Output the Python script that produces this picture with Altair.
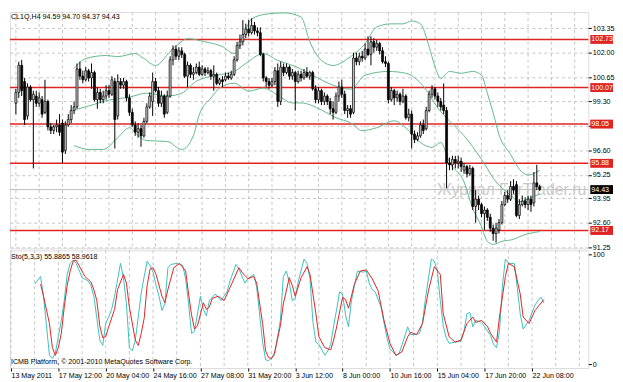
import altair as alt
import pandas as pd

# ---------------- data ----------------
opens = [99.2, 99.8, 101.3, 100.4, 98.5, 100.1, 99.4, 99.6, 99.2, 99.4,
         98.7, 99.3, 97.9, 97.7, 97.9, 98.0, 98.1, 96.6, 98.0, 98.3,
         98.8, 99.0, 101.1, 100.7, 100.5, 101.0, 100.6, 100.9, 99.4, 99.8,
         99.4, 99.6, 99.9, 99.7, 100.4, 98.5, 100.4, 100.2, 100.4, 99.5,
         98.7, 98.0, 97.6, 97.8, 97.4, 98.2, 99.0, 99.3, 100.4, 99.9,
         99.2, 99.6, 98.7, 99.6, 101.6, 102.2, 101.8, 102.1, 101.9, 100.7,
         101.3, 100.8, 100.9, 101.2, 100.8, 101.1, 100.9, 101.0, 100.7, 100.8,
         100.3, 100.5, 100.5, 100.7, 100.6, 100.8, 101.6, 102.4, 102.6, 103.0,
         103.3, 103.1, 103.5, 103.2, 103.1, 101.9, 100.6, 100.4, 100.2, 100.4,
         101.0, 99.3, 101.2, 100.9, 101.2, 100.7, 100.9, 100.4, 100.8, 100.6,
         100.9, 100.7, 100.9, 100.0, 99.4, 99.9, 99.3, 99.6, 99.3, 98.9,
         98.7, 99.6, 100.1, 99.7, 98.8, 98.9, 98.7, 101.7, 101.5, 101.8,
         101.7, 102.2, 101.9, 102.6, 102.3, 102.5, 102.1, 101.5, 101.4, 99.4,
         99.9, 99.5, 99.7, 99.3, 99.6, 98.4, 98.6, 97.5, 97.2, 97.4,
         98.0, 97.8, 98.8, 99.7, 100.0, 99.6, 99.3, 99.1, 98.8, 95.9,
         95.8, 96.1, 95.9, 96.0, 95.5, 95.7, 95.3, 95.6, 93.5, 93.9,
         93.6, 93.1, 93.3, 92.9, 92.3, 92.0, 92.2, 92.6, 93.6, 94.1,
         93.9, 94.6, 94.7, 93.0, 93.6, 93.8, 93.6, 93.9, 93.7, 94.8,
         94.59]
highs = [100.0, 101.5, 101.6, 100.6, 100.3, 100.2, 99.9, 99.9, 99.8, 99.6,
         100.5, 99.4, 98.1, 98.0, 98.3, 98.6, 98.3, 98.2, 98.6, 99.1,
         99.3, 101.4, 101.5, 101.0, 101.2, 101.1, 101.4, 101.0, 100.1, 100.0,
         99.9, 100.2, 100.2, 100.7, 100.6, 100.8, 100.6, 100.6, 100.5, 99.7,
         98.9, 98.2, 98.1, 98.0, 98.4, 99.2, 99.8, 100.9, 100.6, 100.1,
         99.9, 99.7, 99.9, 101.8, 102.4, 102.4, 102.3, 102.3, 102.0, 101.5,
         101.4, 101.2, 101.4, 101.5, 101.3, 101.2, 101.2, 101.1, 101.3, 100.9,
         100.6, 100.7, 100.9, 100.9, 101.0, 101.8, 102.6, 103.0, 103.8, 103.6,
         103.8, 103.9, 103.7, 103.4, 103.4, 102.0, 100.7, 100.6, 100.6, 101.2,
         101.4, 101.5, 101.4, 101.4, 101.3, 101.1, 101.0, 101.0, 101.0, 101.1,
         101.2, 101.0, 101.0, 100.2, 100.1, 100.0, 99.8, 99.7, 99.5, 99.3,
         99.8, 100.4, 100.5, 99.9, 99.1, 99.1, 102.0, 102.0, 102.0, 102.1,
         102.5, 102.9, 102.9, 102.8, 102.7, 102.6, 102.3, 101.8, 101.5, 100.1,
         100.0, 99.9, 99.8, 100.0, 99.7, 98.9, 98.8, 97.7, 97.6, 98.2,
         98.3, 99.0, 99.9, 100.2, 100.1, 99.8, 99.5, 100.3, 99.0, 96.2,
         96.3, 96.3, 96.3, 96.2, 95.9, 95.8, 95.8, 95.7, 94.4, 94.1,
         93.7, 93.5, 93.4, 93.1, 92.5, 92.6, 92.8, 93.8, 94.3, 94.4,
         94.9, 95.0, 94.9, 93.9, 94.1, 94.0, 94.1, 94.1, 95.4, 95.8,
         94.70]
lows = [98.6, 99.5, 99.6, 98.0, 98.3, 99.3, 95.6, 99.0, 99.0, 98.4,
        98.6, 97.7, 97.5, 97.5, 97.6, 97.4, 95.9, 96.4, 97.9, 98.1,
        98.6, 98.9, 100.5, 100.3, 100.4, 100.4, 100.0, 99.3, 98.9, 99.2,
        99.2, 99.4, 99.5, 99.6, 96.7, 98.3, 100.0, 100.0, 99.3, 98.5,
        97.9, 97.4, 97.3, 96.8, 97.3, 98.1, 98.9, 98.5, 99.8, 99.0,
        99.0, 98.4, 98.6, 99.5, 101.3, 101.6, 101.6, 101.7, 100.6, 100.1,
        100.6, 100.5, 100.8, 100.7, 100.7, 100.7, 100.8, 100.5, 99.9, 100.2,
        100.2, 100.1, 100.4, 100.5, 100.5, 100.7, 101.5, 102.2, 102.4, 102.8,
        102.9, 103.0, 103.0, 102.9, 101.8, 100.4, 100.1, 100.0, 100.1, 100.2,
        99.0, 99.1, 100.7, 100.8, 100.5, 100.5, 98.8, 100.3, 100.4, 100.5,
        100.6, 100.5, 99.9, 99.2, 99.2, 99.1, 99.1, 99.1, 98.6, 98.3,
        98.6, 99.3, 99.5, 98.6, 98.4, 98.4, 98.6, 101.3, 101.3, 101.5,
        101.6, 101.8, 101.3, 102.0, 102.1, 101.9, 101.4, 101.2, 99.2, 99.3,
        99.1, 99.3, 99.1, 99.2, 98.3, 98.2, 96.7, 97.0, 97.1, 97.3,
        97.5, 97.7, 98.7, 99.5, 99.4, 99.0, 98.8, 98.6, 94.5, 95.5,
        95.5, 95.6, 95.6, 95.4, 95.3, 95.1, 95.2, 93.3, 92.6, 93.3,
        92.9, 92.2, 92.7, 92.1, 91.6, 91.5, 92.0, 92.5, 93.5, 93.7,
        93.8, 94.2, 92.9, 92.8, 93.5, 93.4, 93.3, 93.2, 93.5, 94.4,
        94.37]
closes = [99.8, 101.3, 99.9, 98.3, 100.1, 99.4, 99.7, 99.2, 99.5, 98.6,
          99.3, 97.9, 97.7, 97.9, 98.0, 97.6, 96.5, 98.0, 98.3, 98.8,
          99.0, 101.1, 100.7, 100.5, 101.0, 100.6, 100.9, 99.4, 99.8, 99.4,
          99.6, 99.9, 99.7, 100.5, 98.3, 100.4, 100.2, 100.4, 99.5, 98.7,
          98.0, 97.6, 97.8, 97.4, 98.2, 99.0, 99.6, 100.4, 99.9, 99.2,
          99.6, 98.6, 99.6, 101.6, 102.2, 101.8, 102.1, 101.9, 100.7, 101.3,
          100.8, 100.9, 101.2, 100.8, 101.1, 100.9, 101.0, 100.7, 100.8, 100.3,
          100.5, 100.4, 100.7, 100.6, 100.8, 101.6, 102.4, 102.6, 103.0, 103.3,
          103.1, 103.5, 103.2, 103.1, 101.9, 100.6, 100.4, 100.2, 100.4, 101.0,
          99.3, 101.2, 100.9, 101.2, 100.7, 100.9, 100.4, 100.8, 100.6, 100.9,
          100.7, 100.9, 100.0, 99.4, 99.9, 99.3, 99.6, 99.3, 98.9, 98.7,
          99.6, 100.1, 99.7, 98.8, 98.9, 98.6, 101.7, 101.5, 101.8, 101.7,
          102.2, 101.9, 102.6, 102.3, 102.5, 102.1, 101.5, 101.4, 99.4, 99.9,
          99.5, 99.7, 99.3, 99.6, 98.4, 98.6, 97.5, 97.2, 97.4, 98.0,
          97.7, 98.8, 99.7, 100.0, 99.6, 99.3, 99.0, 98.8, 95.9, 95.8,
          96.1, 95.9, 96.0, 95.7, 95.7, 95.3, 95.6, 93.5, 93.9, 93.6,
          93.1, 93.3, 92.9, 92.3, 92.0, 92.3, 92.6, 93.6, 94.1, 93.9,
          94.6, 94.4, 93.0, 93.6, 93.8, 93.6, 93.9, 93.6, 94.8, 94.6,
          94.43]
bars = list(range(len(closes)))

# Bollinger bands (bar index, price)
upper_bars = [20, 24, 31, 35, 41, 44, 48, 53, 56, 59, 65, 71, 75, 78, 81, 86, 92, 98, 101, 105,
              109, 115, 120, 124, 129, 133, 136, 139, 142, 144, 146, 149, 153, 157, 160, 162, 164,
              166, 170, 173, 176, 180]
upper_vals = [101.13, 101.67, 101.84, 101.78, 101.95, 101.67, 101.29, 102.06, 102.49, 102.77,
              102.60, 102.33, 101.95, 102.88, 103.86, 104.13, 104.2, 103.97, 102.60, 101.57,
              101.29, 101.78, 102.49, 103.42, 103.59, 103.59, 103.75, 103.59, 102.33, 101.24,
              100.58, 100.96, 100.86, 100.96, 100.75, 99.76, 98.67, 97.47, 96.37, 95.56, 95.23, 95.5]
mid_bars = [20, 25, 32, 39, 45, 52, 57, 62, 69, 75, 79, 85, 90, 96, 102, 109, 115, 120, 128,
            134, 140, 145, 151, 154, 160, 165, 170, 173, 176, 180]
mid_vals = [98.83, 99.05, 99.38, 99.54, 99.76, 99.60, 99.76, 100.42, 100.75, 100.96, 101.40,
            101.95, 101.57, 101.24, 100.75, 100.20, 99.98, 100.75, 100.96, 100.86, 100.15, 98.94,
            97.90, 97.41, 96.10, 94.85, 94.13, 93.75, 93.92, 94.19]
lower_bars = [20, 25, 30, 35, 39, 42, 45, 52, 57, 61, 63, 67, 70, 75, 80, 85, 90, 95, 98, 105,
              110, 115, 119, 124, 130, 134, 139, 143, 146, 149, 154, 157, 160, 162, 164, 167,
              171, 174, 180]
lower_vals = [96.87, 96.65, 96.65, 97.30, 97.85, 97.41, 97.14, 97.09, 96.65, 97.41, 98.56,
              99.49, 100.04, 100.31, 99.87, 100.04, 99.65, 99.22, 99.22, 98.83, 98.40, 98.12,
              97.69, 97.85, 98.23, 97.85, 97.03, 96.76, 97.03, 95.94, 94.85, 93.37, 92.39, 91.57,
              91.40, 91.57, 91.68, 91.89, 92.11]

# Stochastic %K and %D (bar index, value)
k_bars = [8, 10, 11, 12, 13, 14, 15, 16, 17, 18, 19, 20, 21, 22, 23, 24, 26, 27, 28, 29, 30, 31,
          32, 33, 34, 35, 37, 38, 39, 40, 41, 42, 43, 44, 45, 46, 47, 48, 49, 50, 51, 52, 53, 54,
          56, 58, 59, 60, 61, 62, 64, 65, 66, 67, 69, 71, 72, 73, 74, 76, 77, 79, 80, 82, 83, 84,
          85, 86, 87, 89, 91, 92, 93, 94, 95, 96, 97, 99, 100, 101, 102, 103, 104, 106, 107, 108,
          109, 110, 111, 112, 113, 114, 115, 117, 119, 120, 121, 122, 123, 125, 127, 128, 130,
          131, 133, 134, 135, 137, 138, 139, 140, 142, 143, 144, 145, 146, 147, 148, 150, 152,
          153, 154, 155, 156, 157, 159, 160, 162, 163, 164, 165, 166, 167, 168, 170, 171, 172,
          173, 175, 177, 178, 179, 180]
k_vals = [73, 80, 62, 35, 8, 5, 10, 25, 40, 58, 82, 92, 95, 92, 86, 79, 76, 72, 62, 42, 22, 17,
          37, 43, 50, 62, 92, 79, 55, 15, 12, 22, 43, 65, 80, 94, 90, 84, 72, 62, 49, 55, 88, 91,
          92, 90, 78, 55, 28, 30, 62, 50, 44, 58, 64, 58, 62, 66, 76, 91, 87, 74, 78, 82, 70, 45,
          20, 4, 3, 8, 40, 80, 85, 75, 58, 60, 75, 96, 92, 78, 38, 20, 18, 8, 12, 18,
          35, 50, 66, 64, 45, 34, 58, 85, 84, 85, 74, 68, 66, 52, 24, 14, 8,
          9, 25, 34, 27, 27, 28, 38, 60, 96, 94, 85, 58, 35, 24, 19, 20, 21,
          30, 46, 47, 34, 40, 38, 34, 26, 18, 15, 30, 72, 96, 92, 92, 70, 46,
          32, 40, 54, 58, 61, 55.89]
d_bars = [10, 11, 13, 14, 15, 16, 17, 18, 19, 20, 21, 22, 23, 25, 27, 28, 29, 30, 31, 32, 33,
          35, 36, 38, 39, 40, 42, 43, 44, 45, 46, 47, 48, 49, 51, 52, 53, 55, 57, 59, 60, 61, 62,
          63, 65, 66, 67, 68, 70, 72, 74, 77, 78, 80, 82, 83, 85, 86, 87, 88, 89, 91, 92, 94, 95,
          96, 98, 100, 101, 103, 104, 106, 108, 109, 110, 112, 113, 114, 116, 118, 120, 122, 124,
          126, 128, 130, 132, 134, 135, 137, 139, 141, 143, 145, 146, 148, 150, 152, 154, 156,
          157, 159, 161, 162, 164, 165, 167, 168, 170, 172, 173, 175, 177, 180]
d_vals = [73, 62, 37, 15, 8, 15, 28, 52, 72, 85, 94, 95, 90, 80, 75, 68, 58, 35, 24, 25, 34,
          50, 68, 82, 74, 52, 22, 17, 28, 42, 72, 87, 88, 82, 62, 56, 68, 88, 92, 85, 64, 45, 32,
          35, 56, 50, 52, 60, 62, 58, 70, 88, 84, 78, 80, 74, 37, 12, 6, 5, 10, 35, 55, 79, 72,
          62, 79, 89, 82, 46, 25, 15, 13, 22, 34, 61, 59, 51, 73, 85, 86, 78, 67,
          40, 19, 8, 11, 25, 29, 27, 37, 67, 89, 82, 46, 25, 20, 22, 37, 43,
          38, 40, 34, 28, 20, 43, 80, 92, 89, 64, 43, 37, 49, 58.96]

level_prices = [102.73, 100.07, 98.05, 95.88, 92.17]
last_price = [94.43]
price_ticks = [103.35, 102.00, 100.65, 99.30, 97.95, 96.60, 95.25, 93.95, 92.60, 91.25]
hidden_tick = 97.95
stoch_ticks = [0, 100]
time_labels = ["13 May 2011", "17 May 12:00", "20 May 04:00", "24 May 16:00", "27 May 08:00",
               "31 May 20:00", "3 Jun 12:00", "8 Jun 00:00", "10 Jun 16:00", "15 Jun 04:00",
               "17 Jun 20:00", "22 Jun 08:00"]
label_step = 16
grid_step = 8
header_text = ["CL1Q,H4  94.59 94.70 94.37 94.43"]
sto_text = ["Sto(5,3,3) 55.8865 58.9618"]
footer_text = ["ICMB Platform, \u00a9 2001-2010 MetaQuotes Software Corp."]
watermark_text = ["\u0416\u0443\u0440\u043d\u0430\u043b ForTrader.ru"]

# ---------------- layout / style ----------------
W, H1, H2 = 585, 239, 119
FONT = "Liberation Sans"
FS = 7.2
BAND = "#62b98c"
KCOL = "#3dbfbf"
RED = "#e02424"
GRID = "#c4c4c4"

xs = alt.Scale(domain=[-0.33, 195], nice=False, zero=False)
ys = alt.Scale(domain=[91.18, 104.24], nice=False, zero=False)
ss = alt.Scale(domain=[-3.6, 103.9], nice=False, zero=False)

price_axis = alt.Axis(
    orient="right", values=price_ticks, format=".2f",
    labelExpr=f"datum.value == {hidden_tick} ? '' : format(datum.value, '.2f')",
    grid=True, gridDash=[3, 3], gridColor=GRID, tickSize=3, tickColor="black",
    labelFontSize=FS, labelFont=FONT, labelColor="black", domain=False, labelPadding=1)
stoch_axis = alt.Axis(
    orient="right", values=stoch_ticks, grid=False, tickSize=3, tickColor="black",
    domain=False, labelFontSize=FS, labelFont=FONT, labelColor="black", labelPadding=1)
label_bars = [i * label_step for i in range(len(time_labels))]
label_arr = "[" + ",".join(f"'{t}'" for t in time_labels) + "]"
time_axis = alt.Axis(
    values=label_bars, labelExpr=f"{label_arr}[datum.value / {label_step}]",
    labelAlign="left", labelFlush=False, labelOverlap=False, tickSize=3, tickColor="black",
    grid=False, domain=False, labelFontSize=FS, labelFont=FONT, labelColor="black",
    labelPadding=1, labelBaseline="top")


def XM():
    return alt.X("bar:Q", scale=xs, axis=None, title=None)


def XS():
    return alt.X("bar:Q", scale=xs, axis=time_axis, title=None)


def YP(field):
    return alt.Y(field, scale=ys, axis=price_axis, title=None)


def YS(field):
    return alt.Y(field, scale=ss, axis=stoch_axis, title=None)


candles = pd.DataFrame({"bar": bars, "open": opens, "high": highs, "low": lows, "close": closes})
candles["dir"] = ["up" if c >= o else "down" for o, c in zip(opens, closes)]
vgrid_df = pd.DataFrame({"bar": list(range(0, 196, grid_step))})

bands = pd.concat([
    pd.DataFrame({"bar": upper_bars, "price": upper_vals, "band": "upper"}),
    pd.DataFrame({"bar": mid_bars, "price": mid_vals, "band": "middle"}),
    pd.DataFrame({"bar": lower_bars, "price": lower_vals, "band": "lower"}),
])
levels = pd.DataFrame({"price": level_prices, "label": [f"{p:.2f}" for p in level_prices]})
last_df = pd.DataFrame({"price": last_price, "label": [f"{p:.2f}" for p in last_price]})

vgrid = alt.Chart(vgrid_df).mark_rule(color=GRID, strokeDash=[3, 3], strokeWidth=1).encode(x=XM())
wicks = alt.Chart(candles).mark_rule(color="black", strokeWidth=1).encode(
    x=XM(), y=YP("low:Q"), y2="high:Q")
bodies = alt.Chart(candles).mark_bar(size=2, stroke="black", strokeWidth=0.7).encode(
    x=XM(), y=YP("open:Q"), y2="close:Q",
    color=alt.Color("dir:N", scale=alt.Scale(domain=["up", "down"], range=["#c8c8c8", "#000000"]),
                    legend=None),
)
band_lines = alt.Chart(bands).mark_line(color=BAND, strokeWidth=1, interpolate="monotone").encode(
    x=XM(), y=YP("price:Q"), detail="band:N")
level_rules = alt.Chart(levels).mark_rule(color=RED, strokeWidth=1.5).encode(y=YP("price:Q"))
bid_rule = alt.Chart(last_df).mark_rule(color="#bdbdbd", strokeWidth=1).encode(y=YP("price:Q"))
level_boxes = alt.Chart(levels).mark_rect(color=RED, yOffset=-4.5, y2Offset=4.5).encode(
    x=alt.value(W + 2), x2=alt.value(W + 25), y=YP("price:Q"), y2="price:Q")
level_text = alt.Chart(levels).mark_text(align="left", baseline="middle", color="white",
                                          fontSize=FS, font=FONT).encode(
    x=alt.value(W + 3), y=YP("price:Q"), text="label:N")
last_box = alt.Chart(last_df).mark_rect(color="black", yOffset=-4.5, y2Offset=4.5).encode(
    x=alt.value(W + 2), x2=alt.value(W + 25), y=YP("price:Q"), y2="price:Q")
last_text = alt.Chart(last_df).mark_text(align="left", baseline="middle", color="white",
                                          fontSize=FS, font=FONT).encode(
    x=alt.value(W + 3), y=YP("price:Q"), text="label:N")
header = alt.Chart(pd.DataFrame({"t": header_text})).mark_text(
    align="left", baseline="middle", fontSize=FS, font=FONT, color="black").encode(
    x=alt.value(1), y=alt.value(5), text="t:N")
watermark = alt.Chart(pd.DataFrame({"t": watermark_text})).mark_text(
    align="left", baseline="middle", fontSize=16, font=FONT, color="#c9c9c9").encode(
    x=alt.value(432), y=alt.value(180), text="t:N")

main = alt.layer(vgrid, bid_rule, level_rules, watermark, band_lines, wicks, bodies,
                 level_boxes, level_text, last_box, last_text, header).properties(width=W, height=H1)

# ---------------- stochastic panel ----------------
k_df = pd.DataFrame({"bar": k_bars, "v": k_vals})
d_df = pd.DataFrame({"bar": d_bars, "v": d_vals})

vgrid2 = alt.Chart(vgrid_df).mark_rule(color=GRID, strokeDash=[3, 3], strokeWidth=1).encode(x=XS())
k_line = alt.Chart(k_df).mark_line(color=KCOL, strokeWidth=1).encode(x=XS(), y=YS("v:Q"))
d_line = alt.Chart(d_df).mark_line(color=RED, strokeWidth=1).encode(x=XS(), y=YS("v:Q"))
sto_label = alt.Chart(pd.DataFrame({"t": sto_text})).mark_text(
    align="left", baseline="middle", fontSize=FS, font=FONT, color="black").encode(
    x=alt.value(1), y=alt.value(7), text="t:N")
footer = alt.Chart(pd.DataFrame({"t": footer_text})).mark_text(
    align="left", baseline="middle", fontSize=FS, font=FONT, color="black").encode(
    x=alt.value(1), y=alt.value(113), text="t:N")

stoch = alt.layer(vgrid2, k_line, d_line, sto_label, footer).properties(width=W, height=H2)

chart = alt.vconcat(main, stoch, spacing=2, bounds="flush").properties(
    padding={"left": 0, "top": 0, "right": 0, "bottom": 0}
).configure_view(stroke="#404040", strokeWidth=1).configure(background="white")

chart.save("out.html", embed_options={"renderer": "svg", "actions": False})
